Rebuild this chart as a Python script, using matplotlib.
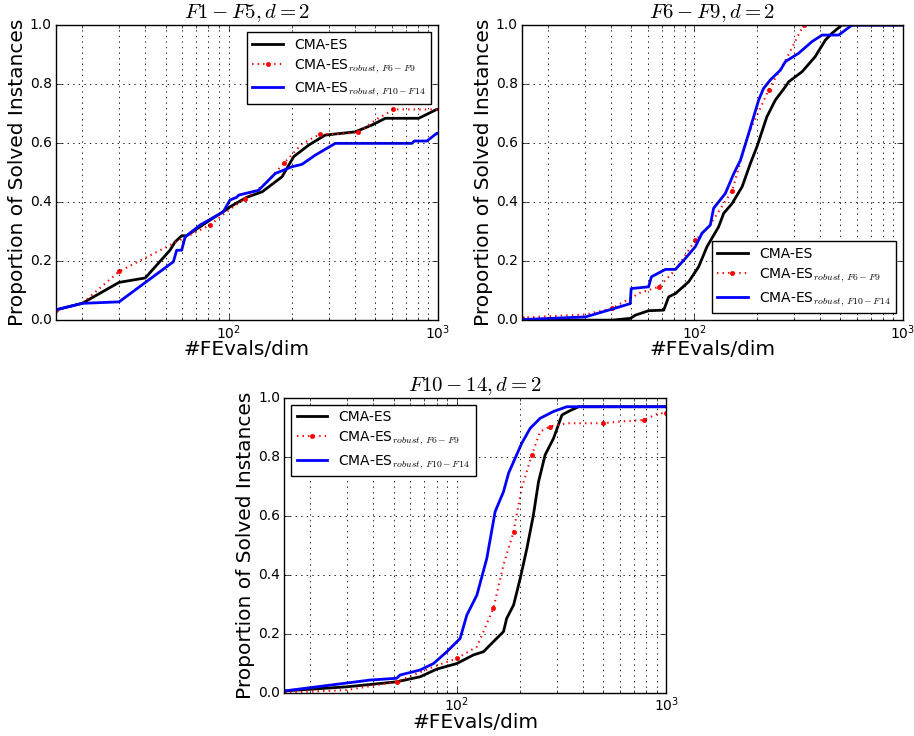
import numpy as np
import matplotlib
matplotlib.use('Agg')
import matplotlib.pyplot as plt

plt.style.use('classic')
plt.rcParams['figure.facecolor'] = 'white'
plt.rcParams['savefig.facecolor'] = 'white'
plt.rcParams['mathtext.fontset'] = 'cm'

# Data (x = #FEvals/dim, y = proportion solved)
# Panel 1: F1 - F5
p1_cma_x = [15, 20, 30, 40, 52.5, 55.5, 59.7, 63, 81.5, 96.8, 101.5, 121.8, 144.7, 180, 204.5, 241, 289, 402, 483, 560, 808, 985, 1000]
p1_cma_y = [0.035, 0.057, 0.128, 0.143, 0.237, 0.265, 0.286, 0.286, 0.339, 0.373, 0.384, 0.416, 0.435, 0.486, 0.554, 0.593, 0.627, 0.638, 0.661, 0.684, 0.684, 0.714, 0.714]
p1_r69_x = [15, 20, 30, 54.5, 81.5, 101.5, 120, 150, 183, 224, 274, 335, 416, 502, 612, 1000]
p1_r69_y = [0.035, 0.057, 0.165, 0.26, 0.322, 0.376, 0.412, 0.463, 0.531, 0.597, 0.631, 0.631, 0.636, 0.678, 0.714, 0.714]
p1_r1014_x = [15, 20, 30, 54.5, 56.5, 59.7, 62, 73, 94.3, 101.5, 109, 112, 139, 167, 201, 224, 259, 323, 750, 770, 885, 985, 1000]
p1_r1014_y = [0.035, 0.057, 0.062, 0.198, 0.237, 0.237, 0.282, 0.322, 0.367, 0.407, 0.416, 0.424, 0.44, 0.497, 0.52, 0.528, 0.559, 0.599, 0.599, 0.607, 0.607, 0.633, 0.633]

# Panel 2: F6 - F9
p2_cma_x = [15, 40.5, 49.5, 52.4, 60.6, 71.6, 75.6, 81.4, 94.2, 105.2, 115.3, 131, 138.6, 152, 169.8, 186, 200, 223, 245, 273.5, 284, 329, 380, 425, 457, 510, 1000]
p2_cma_y = [0.0, 0.0, 0.006, 0.017, 0.032, 0.034, 0.079, 0.09, 0.13, 0.181, 0.249, 0.316, 0.362, 0.395, 0.452, 0.531, 0.588, 0.689, 0.746, 0.791, 0.808, 0.842, 0.893, 0.949, 0.972, 1.0, 1.0]
p2_r69_x = [15, 30.2, 40.5, 55.3, 67.8, 81.4, 101.4, 117.5, 152, 182.6, 227.5, 278.6, 334, 1000]
p2_r69_y = [0.009, 0.019, 0.04, 0.093, 0.113, 0.17, 0.271, 0.316, 0.438, 0.633, 0.78, 0.89, 1.0, 1.0]
p2_r1014_x = [15, 30.2, 39, 49.5, 50, 60.6, 62.5, 73, 81.4, 90.8, 101.4, 109, 119.6, 124, 141, 155, 166.7, 182.6, 203.8, 215, 231.7, 258.8, 273.5, 316, 367, 410, 492, 570, 1000]
p2_r1014_y = [0.002, 0.011, 0.034, 0.056, 0.107, 0.113, 0.147, 0.172, 0.172, 0.209, 0.249, 0.294, 0.322, 0.379, 0.429, 0.497, 0.542, 0.633, 0.746, 0.785, 0.814, 0.847, 0.876, 0.904, 0.944, 0.966, 0.966, 1.0, 1.0]

# Panel 3: F10 - F14
p3_cma_x = [15, 29.8, 51.6, 66.8, 80.2, 100, 120, 134, 149.5, 167, 173, 186.6, 200.8, 216, 232, 245.5, 264, 289.5, 317.5, 341, 381, 1000]
p3_cma_y = [0.006, 0.02, 0.037, 0.054, 0.08, 0.099, 0.128, 0.139, 0.173, 0.207, 0.252, 0.297, 0.388, 0.489, 0.602, 0.715, 0.806, 0.862, 0.941, 0.953, 0.969, 0.969]
p3_r69_x = [15, 29.8, 51.6, 77.4, 100, 124.7, 149.5, 167, 186.6, 204, 228, 250, 279, 335, 501, 602, 780, 919, 1000]
p3_r69_y = [0.0, 0.009, 0.037, 0.088, 0.116, 0.156, 0.286, 0.433, 0.546, 0.693, 0.806, 0.885, 0.902, 0.913, 0.913, 0.919, 0.924, 0.947, 0.947]
p3_r1014_x = [15, 38.6, 51.6, 53.6, 66.8, 77.4, 89.6, 103.7, 111.6, 124.7, 139, 152.4, 167, 176.6, 204, 224, 250, 289.5, 335, 1000]
p3_r1014_y = [0.006, 0.043, 0.049, 0.06, 0.077, 0.099, 0.139, 0.184, 0.263, 0.331, 0.455, 0.614, 0.681, 0.744, 0.845, 0.896, 0.93, 0.953, 0.969, 0.969]

titles = [r'$F1-F5, d=2$', r'$F6-F9, d=2$', r'$F10-14, d=2$']
labels = ['CMA-ES', r'CMA-ES$_{robust,\, F6-F9}$', r'CMA-ES$_{robust,\, F10-F14}$']
legend_locs = ['upper right', 'lower right', 'upper left']

panels = [
    (p1_cma_x, p1_cma_y, p1_r69_x, p1_r69_y, p1_r1014_x, p1_r1014_y),
    (p2_cma_x, p2_cma_y, p2_r69_x, p2_r69_y, p2_r1014_x, p2_r1014_y),
    (p3_cma_x, p3_cma_y, p3_r69_x, p3_r69_y, p3_r1014_x, p3_r1014_y),
]

fig = plt.figure(figsize=(9.14, 7.36), dpi=100)
rects = [
    [0.0613, 0.565, 0.418, 0.401],
    [0.571, 0.565, 0.417, 0.401],
    [0.311, 0.0588, 0.418, 0.401],
]

for i, (rect, data) in enumerate(zip(rects, panels)):
    ax = fig.add_axes(rect)
    cx, cy, rx, ry, bx, by = data
    ax.plot(cx, cy, color='black', lw=2, label=labels[0])
    ax.plot(rx, ry, color='red', lw=1.5, ls=':', marker='.', markersize=6,
            markevery=2, label=labels[1])
    ax.plot(bx, by, color='blue', lw=2, label=labels[2])
    ax.set_xscale('log')
    ax.set_xlim(15, 1000)
    ax.set_ylim(0, 1)
    ax.set_yticks([0.0, 0.2, 0.4, 0.6, 0.8, 1.0])
    ax.grid(True, which='major', ls=':', color='black', lw=0.6)
    ax.xaxis.grid(True, which='minor', ls=':', color='black', lw=0.6)
    ax.tick_params(labelsize=10, pad=3)
    ax.tick_params(axis='x', pad=2)
    ax.set_xlabel('#FEvals/dim', fontsize=14.5, labelpad=-1)
    ax.set_ylabel('Proportion of Solved Instances', fontsize=14.5, labelpad=2)
    ax.set_title(titles[i], fontsize=15, y=1.0)
    leg = ax.legend(loc=legend_locs[i], fontsize=10, numpoints=1,
                    fancybox=False, handlelength=2.2, labelspacing=0.4)
    leg.get_frame().set_edgecolor('black')

fig.savefig('out.png', dpi=100)
